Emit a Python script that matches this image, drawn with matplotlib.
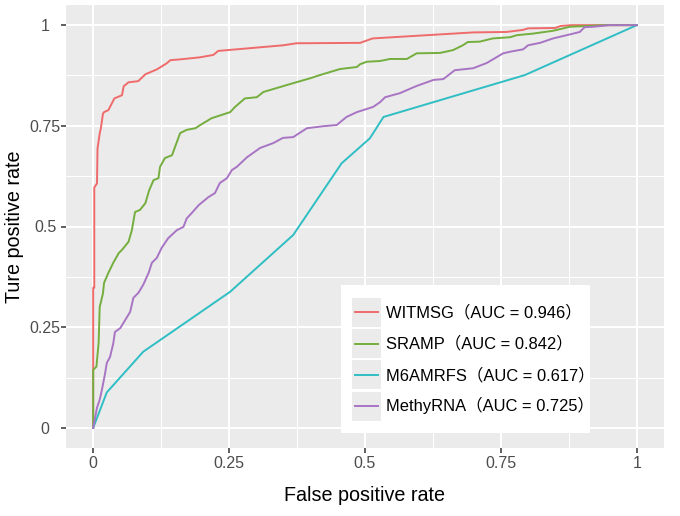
import matplotlib
matplotlib.use('Agg')
import matplotlib.pyplot as plt
from matplotlib.patches import Rectangle
from matplotlib.lines import Line2D
from matplotlib.legend_handler import HandlerLine2D

# ROC points
witmsg_fpr = [0, 0, 0.002, 0.002, 0.007, 0.008, 0.012, 0.014, 0.018, 0.020, 0.028, 0.031,
              0.039, 0.053, 0.056, 0.065, 0.083, 0.096, 0.117, 0.135, 0.142, 0.160, 0.196,
              0.221, 0.230, 0.350, 0.374, 0.491, 0.514, 0.70, 0.76, 0.79, 0.80, 0.85, 0.86,
              0.88, 1.0]
witmsg_tpr = [0, 0.348, 0.348, 0.597, 0.607, 0.694, 0.731, 0.743, 0.780, 0.784, 0.789, 0.797,
              0.818, 0.826, 0.848, 0.858, 0.861, 0.878, 0.890, 0.905, 0.913, 0.915, 0.920,
              0.926, 0.936, 0.950, 0.955, 0.956, 0.967, 0.982, 0.983, 0.988, 0.992, 0.993, 0.998,
              1.0, 1.0]

sramp_fpr = [0, 0, 0.006, 0.010, 0.012, 0.018, 0.020, 0.028, 0.037, 0.047, 0.053, 0.065,
             0.071, 0.077, 0.086, 0.096, 0.103, 0.111, 0.120, 0.123, 0.132, 0.145, 0.154,
             0.160, 0.172, 0.188, 0.197, 0.218, 0.252, 0.261, 0.279, 0.301, 0.313, 0.338,
             0.368, 0.399, 0.417, 0.454, 0.485, 0.491, 0.503, 0.528, 0.546, 0.577, 0.595,
             0.638, 0.662, 0.680, 0.689, 0.711, 0.735, 0.767, 0.779, 0.809, 0.846, 0.877,
             0.944, 1.0]
sramp_tpr = [0, 0.144, 0.152, 0.211, 0.300, 0.334, 0.360, 0.385, 0.410, 0.434, 0.442, 0.462,
             0.490, 0.536, 0.541, 0.558, 0.590, 0.615, 0.620, 0.648, 0.670, 0.677, 0.710,
             0.732, 0.740, 0.744, 0.752, 0.769, 0.784, 0.797, 0.818, 0.821, 0.834, 0.844,
             0.856, 0.868, 0.876, 0.891, 0.896, 0.903, 0.909, 0.911, 0.916, 0.916, 0.930,
             0.931, 0.938, 0.950, 0.958, 0.959, 0.967, 0.970, 0.975, 0.979, 0.986, 0.996,
             1.0, 1.0]

m6amrfs_fpr = [0, 0.025, 0.092, 0.252, 0.368, 0.457, 0.509, 0.534, 0.794, 1.0]
m6amrfs_tpr = [0, 0.088, 0.189, 0.338, 0.479, 0.657, 0.719, 0.772, 0.876, 1.0]

methyrna_fpr = [0, 0.007, 0.012, 0.016, 0.022, 0.025, 0.031, 0.037, 0.040, 0.050, 0.059,
                0.068, 0.074, 0.083, 0.092, 0.102, 0.108, 0.117, 0.126, 0.138, 0.154, 0.166,
                0.172, 0.181, 0.194, 0.212, 0.224, 0.233, 0.246, 0.255, 0.264, 0.283, 0.307,
                0.331, 0.349, 0.368, 0.393, 0.423, 0.448, 0.466, 0.485, 0.515, 0.528, 0.537,
                0.564, 0.595, 0.626, 0.644, 0.665, 0.699, 0.724, 0.754, 0.767, 0.791, 0.800,
                0.822, 0.846, 0.877, 0.895, 0.904, 0.920, 0.950, 1.0]
methyrna_tpr = [0, 0.050, 0.070, 0.094, 0.136, 0.161, 0.176, 0.210, 0.238, 0.248, 0.268,
                0.288, 0.323, 0.335, 0.355, 0.385, 0.410, 0.422, 0.447, 0.471, 0.491, 0.499,
                0.520, 0.533, 0.553, 0.573, 0.583, 0.608, 0.620, 0.640, 0.648, 0.672, 0.695,
                0.707, 0.720, 0.722, 0.744, 0.749, 0.752, 0.772, 0.784, 0.797, 0.809, 0.821,
                0.831, 0.849, 0.864, 0.866, 0.888, 0.893, 0.906, 0.930, 0.934, 0.940, 0.950,
                0.956, 0.967, 0.977, 0.983, 0.995, 0.996, 1.0, 1.0]

models = ['WITMSG', 'SRAMP', 'M6AMRFS', 'MethyRNA']
aucs = [0.946, 0.842, 0.617, 0.725]
curves = [(witmsg_fpr, witmsg_tpr), (sramp_fpr, sramp_tpr),
          (m6amrfs_fpr, m6amrfs_tpr), (methyrna_fpr, methyrna_tpr)]
colors = ['#ef6b6b', '#74ae3e', '#2ebec3', '#a874c4']

ticks = [0, 0.25, 0.5, 0.75, 1]
tick_labels = ['0', '0.25', '0.5', '0.75', '1']
minor_ticks = [0.125, 0.375, 0.625, 0.875]


class KeyHandler(HandlerLine2D):
    # ggplot-like legend key: grey square with a line through it
    def create_artists(self, legend, orig_handle, xdescent, ydescent,
                       width, height, fontsize, trans):
        bg = Rectangle((-xdescent, -ydescent), width, height,
                       facecolor='#ebebeb', edgecolor='none', transform=trans)
        y = height / 2 - ydescent
        ln = Line2D([-xdescent + 0.1 * width, -xdescent + 0.9 * width], [y, y],
                    color=orig_handle.get_color(), linewidth=orig_handle.get_linewidth(),
                    transform=trans)
        return [bg, ln]


plt.rcParams['font.family'] = ['Liberation Sans', 'Noto Sans CJK SC']

fig = plt.figure(figsize=(6.8, 5.16), dpi=100)
ax = fig.add_axes([66 / 680, 1 - 448 / 516, 598 / 680, 443 / 516])
ax.set_facecolor('#ebebeb')
for s in ax.spines.values():
    s.set_visible(False)

handles = []
for (fpr, tpr), name, auc, col in zip(curves, models, aucs, colors):
    h, = ax.plot(fpr, tpr, color=col, linewidth=1.4,
                 label=f'{name}（AUC = {auc:.3f}）', zorder=3)
    handles.append(h)

ax.set_xlim(-0.05, 1.05)
ax.set_ylim(-0.05, 1.05)
ax.set_xticks(ticks)
ax.set_xticklabels(tick_labels)
ax.set_yticks(ticks)
ax.set_yticklabels(tick_labels)
ax.set_xticks(minor_ticks, minor=True)
ax.set_yticks(minor_ticks, minor=True)
ax.grid(which='major', color='white', linewidth=1.5, zorder=1)
ax.grid(which='minor', color='white', linewidth=0.75, zorder=1)
ax.set_axisbelow(True)
ax.tick_params(which='minor', length=0)
ax.tick_params(which='major', length=3.5, width=1.1, color='#333333',
               labelsize=11.5, labelcolor='#4d4d4d')
ax.tick_params(axis='x', pad=2.5)
ax.tick_params(axis='y', pad=11.5)
for lbl in ax.get_yticklabels():
    lbl.set_ha('center')

ax.set_xlabel('False positive rate', fontsize=14.2)
ax.set_ylabel('Ture positive rate', fontsize=14.2)
ax.xaxis.set_label_coords(0.5, -0.086)
ax.yaxis.set_label_coords(-0.071, 0.5)

# white legend background box (ggplot sizes it tighter than matplotlib would)
ax.add_patch(Rectangle((341 / 680, 1 - 433 / 516), 249 / 680, 148 / 516,
                       transform=fig.transFigure, facecolor='white',
                       edgecolor='none', zorder=4))

leg = ax.legend(handles=handles, loc='upper left',
                bbox_to_anchor=(341 / 680, 1 - 287 / 516), bbox_transform=fig.transFigure,
                handler_map={Line2D: KeyHandler()}, fontsize=11.9,
                frameon=False, borderpad=0.66, borderaxespad=0,
                handlelength=1.76, handleheight=2.32, handletextpad=0.32,
                labelspacing=0.14)
leg.set_zorder(5)

fig.savefig('out.png', dpi=100)
